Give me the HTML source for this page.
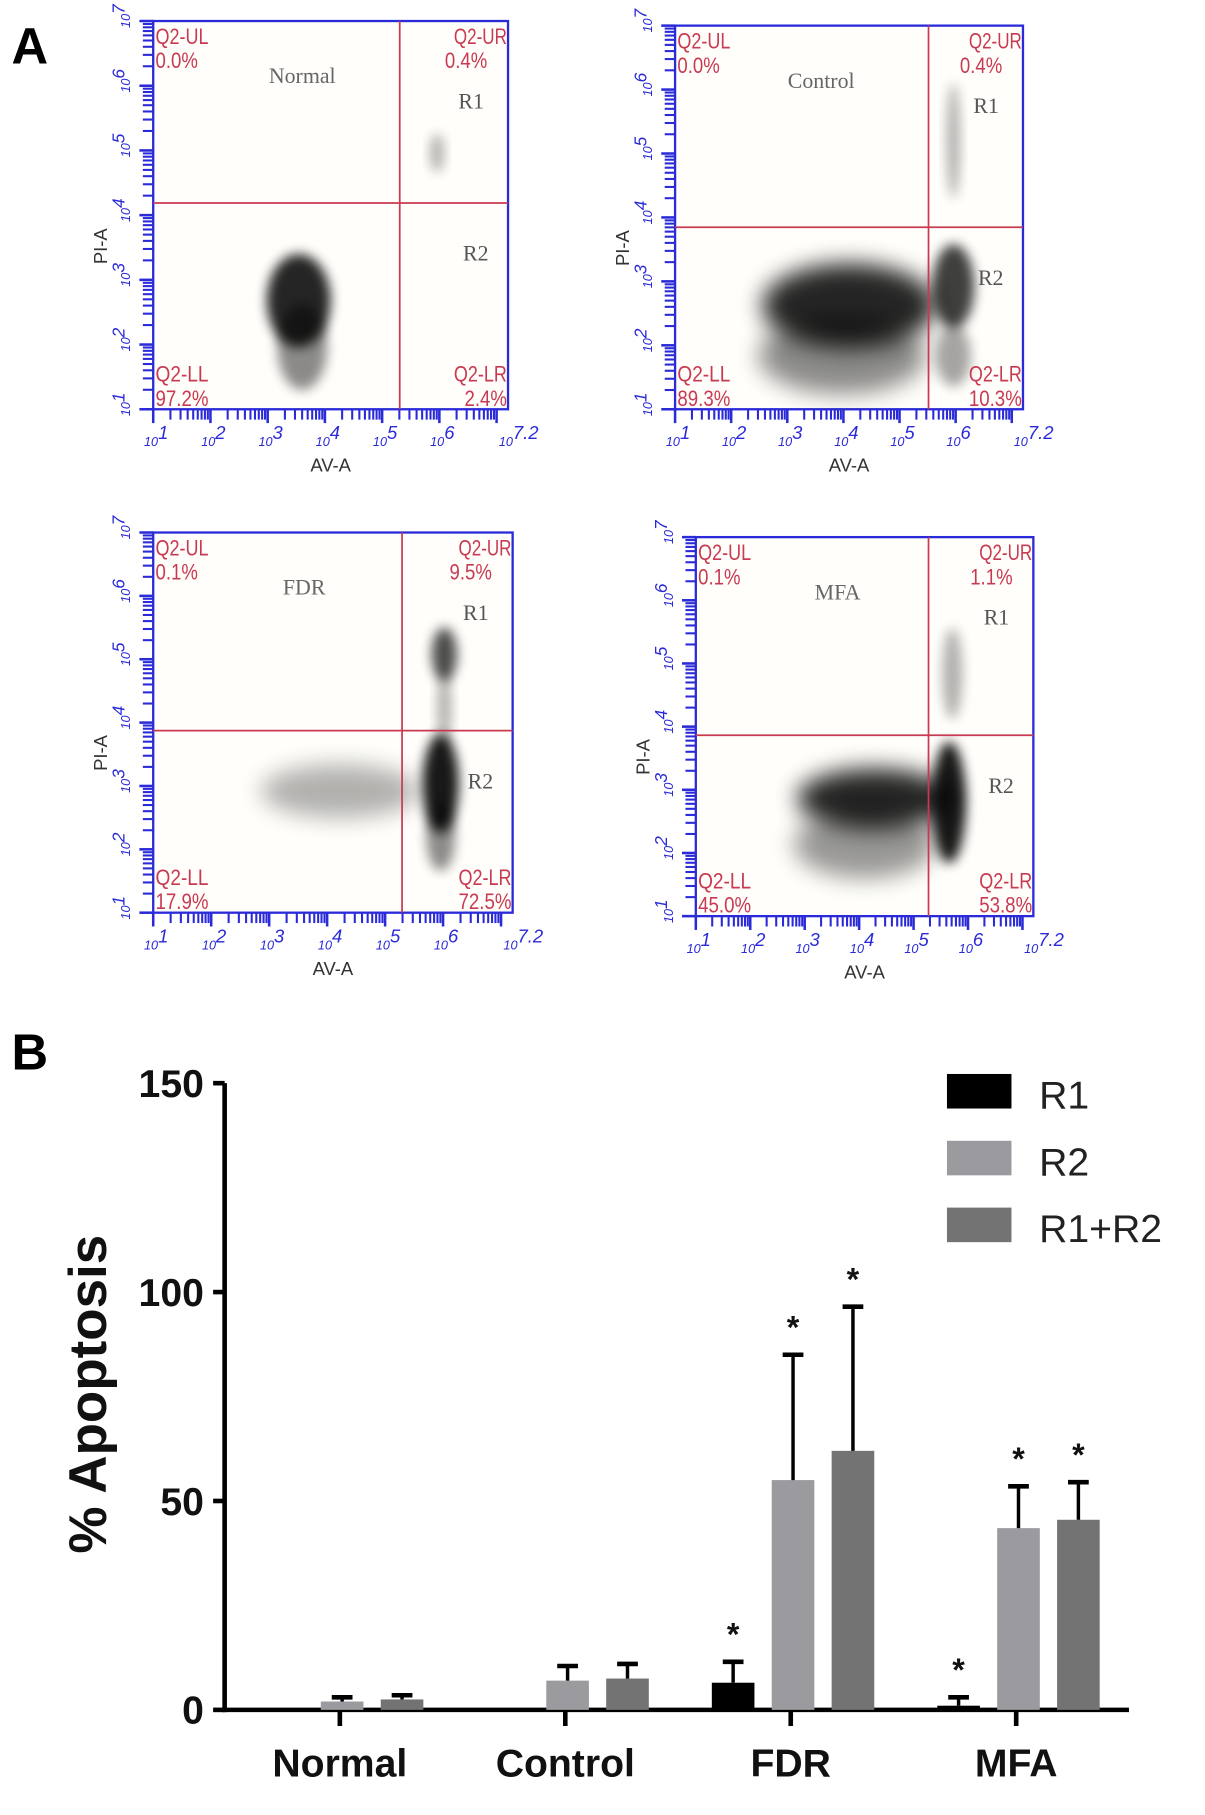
<!DOCTYPE html>
<html><head><meta charset="utf-8"><style>
html,body{margin:0;padding:0;background:#fff}
svg{display:block}
</style></head><body>
<svg id="fig" width="1205" height="1815" viewBox="0 0 1046 1575" xmlns="http://www.w3.org/2000/svg" font-family="Liberation Sans, Arial, sans-serif">
<defs>
<filter id="blur3" x="-50%" y="-50%" width="200%" height="200%"><feGaussianBlur stdDeviation="5"/></filter>
<filter id="blur6" x="-50%" y="-50%" width="200%" height="200%"><feGaussianBlur stdDeviation="10"/></filter>
</defs>
<text x="10" y="55" font-size="44" font-weight="bold">A</text>
<text x="10" y="928" font-size="44" font-weight="bold">B</text>
<g id="flow"></g>
<g id="bars"></g>
</svg>
<script>
const NS='http://www.w3.org/2000/svg';
function mk(tag,attrs,parent,txt){const e=document.createElementNS(NS,tag);for(const k in attrs)e.setAttribute(k,attrs[k]);if(txt!==undefined)e.textContent=txt;parent.appendChild(e);return e;}

/* ---------- Panel A: flow cytometry plots ---------- */
const flowNames=['Normal','Control','FDR','MFA'];
const flowUL=['0.0%','0.0%','0.1%','0.1%'];
const flowUR=['0.4%','0.4%','9.5%','1.1%'];
const flowLL=['97.2%','89.3%','17.9%','45.0%'];
const flowLR=['2.4%','10.3%','72.5%','53.8%'];
const frames=[[133,18,441,355,347,176],[586,22,888,355,806,197],[133,462,445,792,349,634],[604,466,897,795,806,638]];
const blobs=[
 [[0.41,0.72,0.09,0.12,0.85,'blur3'],[0.42,0.84,0.07,0.11,0.45,'blur3'],[0.80,0.34,0.02,0.05,0.3,'blur3']],
 [[0.50,0.73,0.25,0.11,0.85,'blur6'],[0.48,0.86,0.24,0.10,0.45,'blur6'],[0.80,0.68,0.06,0.11,0.75,'blur3'],[0.80,0.86,0.05,0.08,0.35,'blur3'],[0.80,0.30,0.02,0.15,0.3,'blur3']],
 [[0.80,0.66,0.05,0.13,0.9,'blur3'],[0.80,0.80,0.04,0.09,0.45,'blur3'],[0.81,0.32,0.035,0.07,0.7,'blur3'],[0.81,0.46,0.02,0.10,0.3,'blur3'],[0.52,0.68,0.22,0.07,0.3,'blur6']],
 [[0.53,0.69,0.23,0.08,0.85,'blur6'],[0.50,0.81,0.21,0.09,0.4,'blur6'],[0.75,0.70,0.05,0.16,0.9,'blur3'],[0.76,0.36,0.03,0.12,0.3,'blur3']]
];
const flow=document.getElementById('flow');
const red='#c83a52', blue='#2a2ad8';
flowNames.forEach((nm,i)=>{
  const [l,t,r,b,vx,hy]=frames[i];
  const g=mk('g',{},flow);
  
  
  mk('rect',{x:l,y:t,width:r-l,height:b-t,fill:'#fffefa',stroke:blue,'stroke-width':2},g);
  const W=r-l,H=b-t;
  blobs[i].forEach(bl=>{
    const e=mk('ellipse',{cx:l+bl[0]*W,cy:t+bl[1]*H,rx:bl[2]*W,ry:bl[3]*H,fill:'#000',opacity:bl[4],filter:'url(#'+bl[5]+')'},g);
    
    
  });
  mk('line',{x1:vx,y1:t,x2:vx,y2:b,stroke:red,'stroke-width':1.5},g);
  mk('line',{x1:l,y1:hy,x2:r,y2:hy,stroke:red,'stroke-width':1.5},g);
  const fs=19;
  [['Q2-UL',l+2,t+20,'start'],[flowUL[i],l+2,t+41,'start'],['Q2-UR',r-1,t+20,'end'],[flowUR[i],r-18,t+41,'end'],
   ['Q2-LL',l+2,b-24,'start'],[flowLL[i],l+2,b-3,'start'],['Q2-LR',r-1,b-24,'end'],[flowLR[i],r-1,b-3,'end']].forEach(q=>{
    const tx=mk('text',{x:q[1],y:q[2],'font-size':fs,fill:red,'text-anchor':q[3],textLength:q[0].length*9.2,lengthAdjust:'spacingAndGlyphs'},g,q[0]);
    
    
  });
  const lbl=mk('text',{x:l+W*0.42,y:t+54,'font-size':19,fill:'#666','font-family':'Liberation Serif, serif','text-anchor':'middle'},g,nm);
  
  
  const r1=mk('text',{x:r-32,y:t+76,'font-size':19,fill:'#555','font-family':'Liberation Serif, serif','text-anchor':'middle'},g,'R1');
  
  
  const r2=mk('text',{x:r-28,y:hy+50,'font-size':19,fill:'#555','font-family':'Liberation Serif, serif','text-anchor':'middle'},g,'R2');
  
  
  const xspan=6.2;
  for(let d=1;d<=7;d++){for(let m=1;m<=9;m++){const v=d+Math.log10(m);if(v>7.2)break;
    const x=l+(v-1)/xspan*W; mk('line',{x1:x,y1:b,x2:x,y2:b+(m==1?12:9),stroke:blue,'stroke-width':m==1?2.2:1.8},g);}}
  for(let d=1;d<=7;d++){for(let m=1;m<=9;m++){const v=d+Math.log10(m);if(v>7)break;
    const y=b-(v-1)/6*H; mk('line',{x1:l,y1:y,x2:l-(m==1?12:9),y2:y,stroke:blue,'stroke-width':m==1?2.2:1.8},g);}}
  ['1','2','3','4','5','6','7.2'].forEach((s,k)=>{
    const v=k<6?k+1:7.2; const x=l+(v-1)/xspan*W;
    const tx=mk('text',{x:x-8,y:b+32,'font-size':11,fill:blue,'font-style':'italic'},g,'10');
    mk('tspan',{dy:-6,'font-size':16},tx,s);
    
    
  });
  for(let k=1;k<=7;k++){const y=b-(k-1)/6*H;
    const tx=mk('text',{x:0,y:0,'font-size':11,fill:blue,'font-style':'italic',transform:`translate(${l-20},${y+6}) rotate(-90)`},g,'10');
    mk('tspan',{dy:-5,'font-size':15},tx,String(k));
    
    }
  const xa=mk('text',{x:l+W*0.5,y:b+54,'font-size':16,fill:'#333','text-anchor':'middle'},g,'AV-A');
  
  
  const ya=mk('text',{x:0,y:0,'font-size':16,fill:'#333','text-anchor':'middle',transform:`translate(${l-40},${t+H*0.58}) rotate(-90)`},g,'PI-A');
  
  
});

/* ---------- Panel B: bar chart ---------- */
const categories=['Normal','Control','FDR','MFA'];
const seriesNames=['R1','R2','R1+R2'];
const r1Values=[0.3,0,6.5,1];
const r2Values=[2,7,55,43.5];
const r12Values=[2.5,7.5,62,45.5];
const r1Err=[0,0,5,2];
const r2Err=[1,3.5,30,10];
const r12Err=[1,3.5,34.5,9];
const r1Sig=[false,false,true,true];
const r2Sig=[false,false,true,true];
const r12Sig=[false,false,true,true];
const yTicks=[0,50,100,150];
const seriesColors=['#000000','#9b9b9f','#737373'];

const bars=document.getElementById('bars');
const X0=195,X1=980,Y0=1484,Ytop=940,VMAX=150;
const yS=v=>Y0-(v/VMAX)*(Y0-Ytop);
const catX=i=>295+i*195.7;
const offs=[-50,2,54], bw=37;
mk('line',{x1:X0,y1:Ytop,x2:X0,y2:Y0+2,stroke:'#000','stroke-width':4},bars);
mk('line',{x1:X0-2,y1:Y0,x2:X1,y2:Y0,stroke:'#000','stroke-width':4},bars);
yTicks.forEach(t=>{
  mk('line',{x1:X0-10,y1:yS(t),x2:X0,y2:yS(t),stroke:'#000','stroke-width':4},bars);
  const tx=mk('text',{x:X0-18,y:yS(t)+12,'font-size':34,'font-weight':'bold','text-anchor':'end',fill:'#111'},bars,String(t));
  
  
});
const yt=mk('text',{x:0,y:0,'font-size':46,'font-weight':'bold','text-anchor':'middle',fill:'#111',transform:'translate(92,1210) rotate(-90)'},bars,'% Apoptosis');


categories.forEach((c,i)=>{
  const x=catX(i);
  mk('line',{x1:x,y1:Y0,x2:x,y2:Y0+14,stroke:'#000','stroke-width':4},bars);
  const tx=mk('text',{x:x,y:Y0+58,'font-size':34,'font-weight':'bold','text-anchor':'middle',fill:'#111'},bars,c);
  
  
});
const allVals=[r1Values,r2Values,r12Values],allErr=[r1Err,r2Err,r12Err],allSig=[r1Sig,r2Sig,r12Sig];
allVals.forEach((vals,s)=>{
  vals.forEach((v,i)=>{
    const cx=catX(i)+offs[s];
    if(v>0){
      const rc=mk('rect',{x:cx-bw/2,y:yS(v),width:bw,height:Y0-yS(v),fill:seriesColors[s]},bars);
      
      
    }
    const e=allErr[s][i];
    if(e>0){
      const top=yS(v+e);
      const eg=mk('g',{},bars);
      
      
      mk('line',{x1:cx,y1:yS(v),x2:cx,y2:top,stroke:'#000','stroke-width':3},eg);
      mk('line',{x1:cx-9,y1:top,x2:cx+9,y2:top,stroke:'#000','stroke-width':4},eg);
    }
    if(allSig[s][i]){
      const st=mk('text',{x:cx,y:yS(v+e)-14,'font-size':28,'font-weight':'bold','text-anchor':'middle',fill:'#111'},bars,'*');
      
      
    }
  });
});
seriesNames.forEach((n,s)=>{
  const y=932+s*58;
  const lg=mk('g',{},bars);
  
  
  mk('rect',{x:822,y:y,width:56,height:30,fill:seriesColors[s]},lg);
  mk('text',{x:902,y:y+30,'font-size':34,fill:'#222'},lg,n);
});
</script>
</body></html>
